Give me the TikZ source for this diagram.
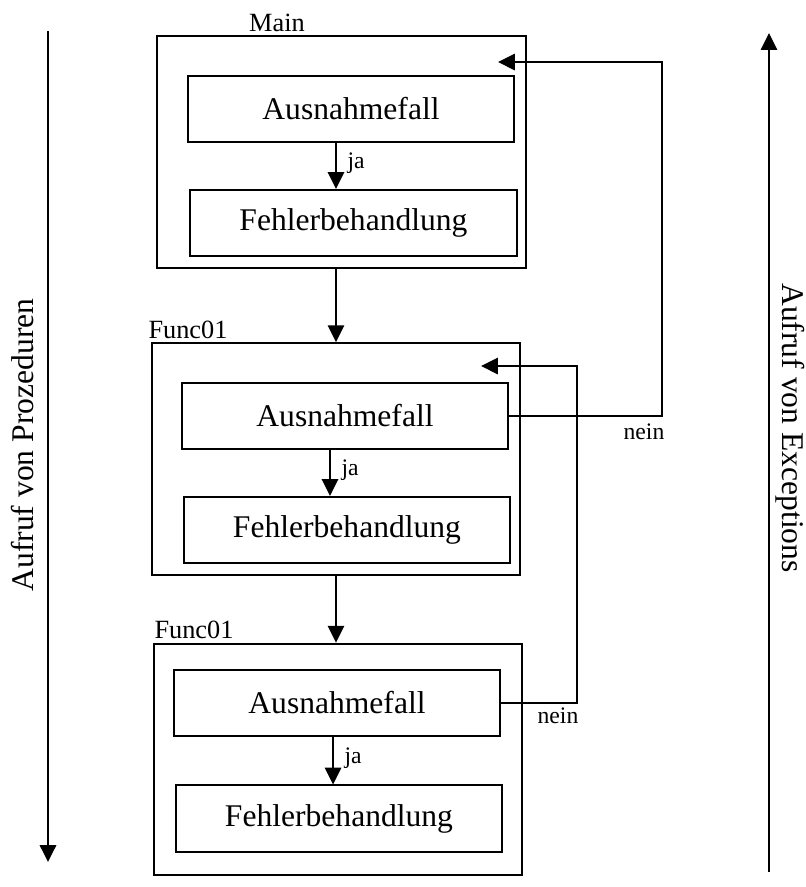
\documentclass[tikz,border=0pt]{standalone}
\usepackage{fontspec}
\setmainfont{Liberation Serif}
\usetikzlibrary{arrows.meta}
\begin{document}
\begin{tikzpicture}
    [x=0.38pt,y=-0.38pt,line width=0.75pt,
     pre/.style={-{Triangle[length=6.4pt,width=6.2pt]}},
     frame/.style={draw,minimum width=140pt,minimum height=88pt},
     box/.style={draw,minimum width=123.9pt,minimum height=25.1pt,
       font=\fontsize{12}{14}\selectfont},
     tag/.style={font=\fontsize{10}{12}\selectfont,inner sep=1pt},
     small/.style={font=\fontsize{9}{11}\selectfont,inner sep=2pt},
     yes/.style={small,midway,right,xshift=2pt,yshift=1pt}]
    \useasboundingbox (0,0) rectangle (806,887);
    \node [frame] (main) at (341.5,152) {};
    \node [tag] (lmain) at (277,23) {Main};
    \node [box] (main-a) at (351,109) {Ausnahmefall};
    \node [box] (main-f) at (353.5,223) {Fehlerbehandlung};
    \node [frame] (func1) at (336,459) {};
    \node [tag] (lfunc1) at (188,330) {Func01};
    \node [box] (f1-a) at (345,416) {Ausnahmefall};
    \node [box] (f1-f) at (347,530) {Fehlerbehandlung};
    \node [frame] (func2) at (338,759.5) {};
    \node [tag] (lfunc2) at (194,630) {Func01};
    \node [box] (f2-a) at (337,703) {Ausnahmefall};
    \node [box] (f2-f) at (339,818.5) {Fehlerbehandlung};
    \draw [pre] ([xshift=-5.7pt]main-a.south) -- ([xshift=-5.7pt]main-a.south |- main-f.north)
      node [yes] (ja1) {ja};
    \draw [pre] ([xshift=-5.7pt]f1-a.south) -- ([xshift=-5.7pt]f1-a.south |- f1-f.north)
      node [yes] (ja2) {ja};
    \draw [pre] ([xshift=-1.5pt]f2-a.south) -- ([xshift=-1.5pt]f2-a.south |- f2-f.north)
      node [yes] (ja3) {ja};
    \draw [pre] (main.south -| func1.north) -- (func1.north);
    \draw [pre] (func1.south) -- (func1.south |- func2.north);
    \coordinate (turn1) at (662,62);
    \coordinate (in-main) at (498,62);
    \coordinate (turn2) at (577,366);
    \coordinate (in-f1) at (481,366);
    \draw [pre] (f1-a.east) -| (turn1) -- (in-main);
    \draw [pre] (f2-a.east) -| (turn2) -- (in-f1);
    \node [small] (nein1) at (644,432) {nein};
    \node [small] (nein2) at (558,716) {nein};
    \coordinate (p-top) at (48,31);
    \coordinate (p-bot) at (48,862);
    \draw [pre] (p-top) -- (p-bot);
    \node [rotate=90,font=\fontsize{12}{14}\selectfont] (proz) at (23,445) {Aufruf von Prozeduren};
    \coordinate (e-bot) at (769,872);
    \coordinate (e-top) at (769,33);
    \draw [pre] (e-bot) -- (e-top);
    \node [rotate=-90,font=\fontsize{12}{14}\selectfont] (exc) at (790,428) {Aufruf von Exceptions};
  \end{tikzpicture}
\end{document}
